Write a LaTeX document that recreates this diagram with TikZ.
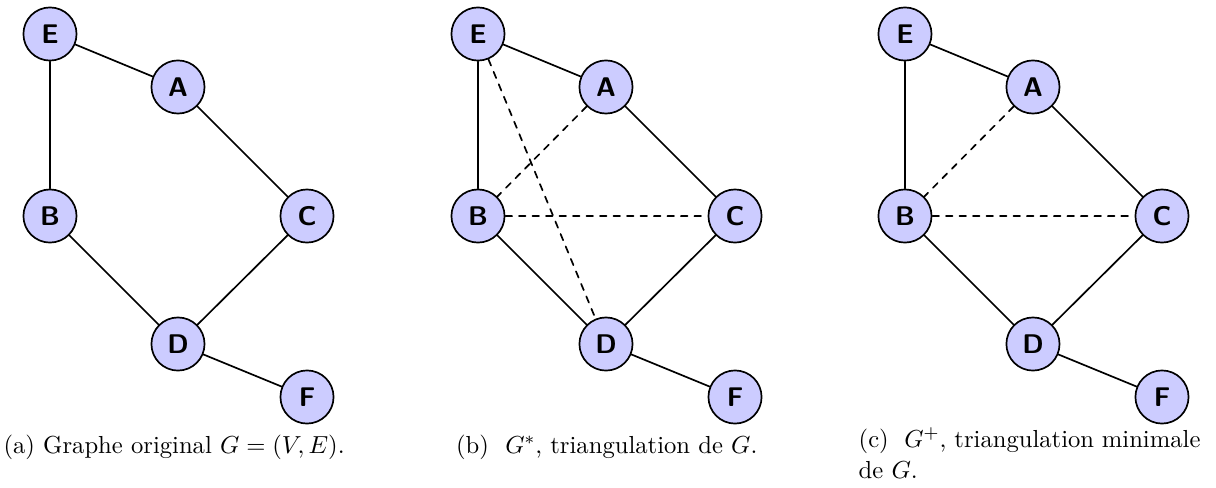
\documentclass[tikz,border=0pt]{standalone}
\usepackage{amsmath}
\begin{document}
\begin{tikzpicture}[line join=round, line cap=round,
		sommet/.style={circle, draw, fill=blue!20, line width=0.75pt, minimum size=8.3mm, inner sep=0pt, font=\large\sffamily\bfseries},
		arete/.style={line width=0.75pt},
		ajout/.style={arete, dashed},
		legende/.style={font=\fontsize{10.95pt}{13.6pt}\selectfont, inner sep=0pt}]
		\useasboundingbox (0,0) rectangle (19,-7.61);
		% les trois graphes
		\foreach \g/\dx in {a/0, b/6.6875, c/13.359} {
			\begin{scope}[xshift=\dx cm]
				\node[sommet] (\g-E) at (0.781,-0.531) {E};
				\node[sommet] (\g-A) at (2.781,-1.359) {A};
				\node[sommet] (\g-B) at (0.781,-3.375) {B};
				\node[sommet] (\g-C) at (4.797,-3.375) {C};
				\node[sommet] (\g-D) at (2.781,-5.375) {D};
				\node[sommet] (\g-F) at (4.797,-6.203) {F};
			\end{scope}
			\draw[arete] (\g-E)--(\g-A) (\g-A)--(\g-C) (\g-E)--(\g-B) (\g-B)--(\g-D) (\g-C)--(\g-D) (\g-D)--(\g-F);
		}
		% aretes ajoutees
		\draw[ajout] (b-E)--(b-D) (b-A)--(b-B) (b-B)--(b-C);
		\draw[ajout] (c-A)--(c-B) (c-B)--(c-C);
		% legendes
		\node[legende, anchor=base] (leg-a) at (2.72,-7.08) {(a) Graphe original $G=(V,E)$.};
		\node[legende, anchor=base] (leg-b) at (9.48,-7.08) {(b)~~$G^*$, triangulation de $G$.};
		\node[legende, anchor=north west, text width=5.34cm, align=justify] (leg-c) at (13.41,-6.68) {(c)~~$G^+$, triangulation minimale de $G$.};
		\end{tikzpicture}
\end{document}
